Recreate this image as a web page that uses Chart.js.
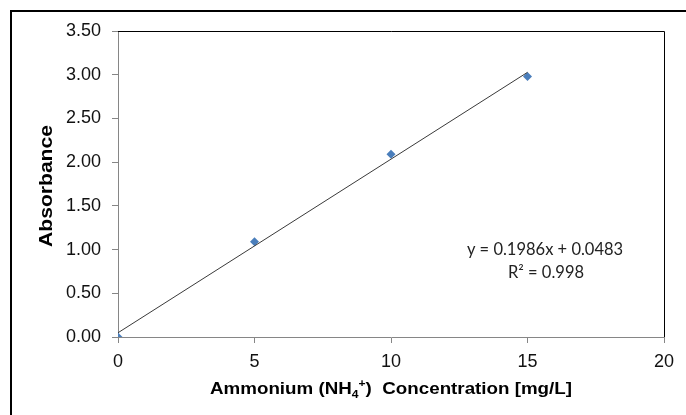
<!DOCTYPE html>
<html>
<head>
<meta charset="utf-8">
<script src="https://cdn.jsdelivr.net/npm/chart.js@4.4.1/dist/chart.umd.min.js"></script>
<style>
  body { margin: 0; background: #fff; }
  #wrap { width: 686px; height: 415px; }
</style>
</head>
<body>
<div id="wrap"><canvas id="calChart" width="686" height="415"></canvas></div>
<script>
// measured standards
const concentrations = [0, 5, 10, 15];
const absorbances = [0.00, 1.09, 2.09, 2.98];

// linear trendline (from the equation shown on the chart)
const trendX = [0, 15];
const trendY = [0.0483, 3.0273];

const equationText = "y = 0.1986x + 0.0483";
const rSquaredText = "R² = 0.998";

const axisGray = '#868686';
const tickFont = { family: 'Liberation Sans, Arial, sans-serif', size: 18 };

const pointData = concentrations.map((c, i) => ({ x: c, y: absorbances[i] }));
const trendData = trendX.map((c, i) => ({ x: c, y: trendY[i] }));

// frame, plot border and the text that chart.js can't lay out itself
const extrasPlugin = {
  id: 'extras',
  beforeDraw(chart) {
    const ctx = chart.ctx;
    ctx.save();
    ctx.fillStyle = '#fff';
    ctx.fillRect(0, 0, chart.width, chart.height);
    ctx.restore();
  },
  afterDraw(chart) {
    const ctx = chart.ctx;
    const a = chart.chartArea;
    ctx.save();

    // outer frame
    ctx.strokeStyle = '#000';
    ctx.lineWidth = 2;
    ctx.strokeRect(11, 11, 720, 450);

    // top + right edge of plot area
    ctx.lineWidth = 1;
    ctx.beginPath();
    ctx.moveTo(a.left, a.top + 0.5);
    ctx.lineTo(a.right + 0.5, a.top + 0.5);
    ctx.lineTo(a.right + 0.5, a.bottom);
    ctx.stroke();

    // y title, stretched a bit along its length like the original
    ctx.fillStyle = '#000';
    ctx.font = 'bold 19px Liberation Sans, Arial, sans-serif';
    ctx.textAlign = 'center';
    ctx.textBaseline = 'middle';
    const yw = ctx.measureText('Absorbance').width;
    ctx.translate(47, 186);
    ctx.rotate(-Math.PI / 2);
    ctx.scale(122 / yw, 1);
    ctx.fillText('Absorbance', 0, 0);
    ctx.setTransform(1, 0, 0, 1, 0, 0);

    // x title with NH4+ sub/superscript
    const parts = [
      { t: 'Ammonium (NH', s: 17, dy: 0 },
      { t: '4', s: 11, dy: 4 },
      { t: '+', s: 11, dy: -7 },
      { t: ')  Concentration [mg/L]', s: 17, dy: 0 }
    ];
    let total = 0;
    parts.forEach(p => {
      ctx.font = 'bold ' + p.s + 'px Liberation Sans, Arial, sans-serif';
      p.w = ctx.measureText(p.t).width;
      total += p.w;
    });
    const sx = 362 / total;
    ctx.translate(210, 394);
    ctx.scale(sx, 1);
    ctx.textAlign = 'left';
    ctx.textBaseline = 'alphabetic';
    let x = 0;
    parts.forEach(p => {
      ctx.font = 'bold ' + p.s + 'px Liberation Sans, Arial, sans-serif';
      ctx.fillText(p.t, x, p.dy);
      x += p.w;
    });
    ctx.setTransform(1, 0, 0, 1, 0, 0);

    // trendline label
    ctx.fillStyle = '#222';
    ctx.font = '16.5px Lato, sans-serif';
    ctx.textAlign = 'center';
    ctx.textBaseline = 'middle';
    ctx.fillText(equationText, 545, 250);
    ctx.fillText(rSquaredText, 546, 273);

    ctx.restore();
  }
};

const ctx = document.getElementById('calChart').getContext('2d');
new Chart(ctx, {
  type: 'scatter',
  data: {
    datasets: [
      {
        label: 'Linear (Absorbance)',
        type: 'line',
        data: trendData,
        borderColor: '#3a3a3a',
        borderWidth: 1,
        pointRadius: 0,
        fill: false,
        order: 0
      },
      {
        label: 'Absorbance',
        data: pointData,
        pointStyle: 'rectRot',
        pointRadius: 4.5,
        pointHoverRadius: 4.5,
        backgroundColor: '#4a7ebb',
        borderColor: '#4a7ebb',
        borderWidth: 0,
        order: 1
      }
    ]
  },
  options: {
    responsive: false,
    animation: false,
    devicePixelRatio: 1,
    layout: { padding: { top: 31, right: 22, left: 0, bottom: 0 } },
    plugins: {
      legend: { display: false },
      tooltip: { enabled: false }
    },
    scales: {
      x: {
        type: 'linear',
        min: 0,
        max: 20,
        afterFit(scale) { scale.height = 78; },
        ticks: { stepSize: 5, color: '#111', font: tickFont, padding: 8, maxRotation: 0 },
        grid: { drawOnChartArea: false, tickLength: 6, color: axisGray },
        border: { color: axisGray }
      },
      y: {
        min: 0,
        max: 3.5,
        afterFit(scale) { scale.width = 118; },
        ticks: {
          stepSize: 0.5,
          color: '#111',
          font: tickFont,
          padding: 11,
          callback: v => v.toFixed(2)
        },
        grid: { drawOnChartArea: false, tickLength: 6, color: axisGray },
        border: { color: axisGray }
      }
    }
  },
  plugins: [extrasPlugin]
});
</script>
</body>
</html>
